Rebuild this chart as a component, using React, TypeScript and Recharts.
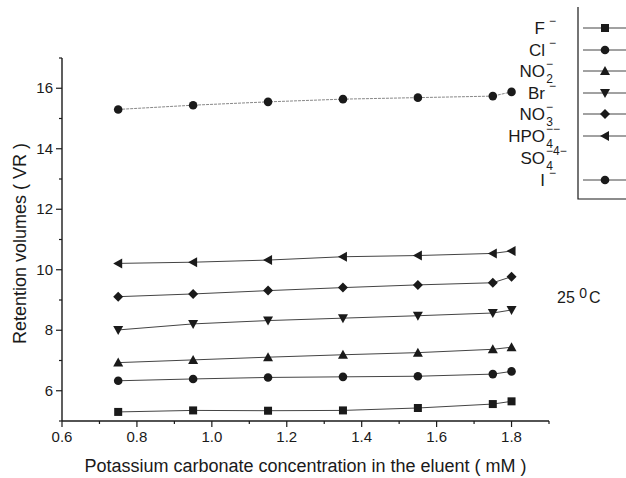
import React from 'react'
import { LineChart, Line, XAxis, YAxis } from 'recharts'

// K2CO3 concentration (mM) at which each run was made
const concentrations = [0.75, 0.95, 1.15, 1.35, 1.55, 1.75, 1.8]

// retention volumes per anion
const fluoride = [5.3, 5.35, 5.34, 5.35, 5.43, 5.56, 5.65]
const chloride = [6.33, 6.39, 6.44, 6.46, 6.48, 6.55, 6.64]
const nitrite = [6.93, 7.02, 7.11, 7.19, 7.26, 7.37, 7.44]
const bromide = [8.01, 8.21, 8.32, 8.4, 8.48, 8.57, 8.67]
const nitrate = [9.11, 9.2, 9.31, 9.41, 9.5, 9.57, 9.77]
const phosphate = [10.21, 10.25, 10.32, 10.43, 10.47, 10.54, 10.62]
const iodide = [15.3, 15.44, 15.55, 15.64, 15.69, 15.74, 15.88]

const xTicks = [0.6, 0.7, 0.8, 0.9, 1.0, 1.1, 1.2, 1.3, 1.4, 1.5, 1.6, 1.7, 1.8, 1.9]
const yTicks = [5, 6, 7, 8, 9, 10, 11, 12, 13, 14, 15, 16, 17]

const data = concentrations.map((c, i) => ({
  c,
  F: fluoride[i],
  Cl: chloride[i],
  NO2: nitrite[i],
  Br: bromide[i],
  NO3: nitrate[i],
  HPO4: phosphate[i],
  I: iodide[i]
}))

const FONT = '"Liberation Sans", Arial, Helvetica, sans-serif'
const INK = '#1a1a1a'

type Shape = 'square' | 'circle' | 'up' | 'down' | 'diamond' | 'left'

function Marker({ shape, cx, cy }: { shape: Shape; cx: number; cy: number }) {
  switch (shape) {
    case 'square':
      return <rect x={cx - 4} y={cy - 4} width={8} height={8} fill={INK} />
    case 'circle':
      return <circle cx={cx} cy={cy} r={4.3} fill={INK} />
    case 'up':
      return <polygon points={`${cx - 5},${cy + 4} ${cx + 5},${cy + 4} ${cx},${cy - 5}`} fill={INK} />
    case 'down':
      return <polygon points={`${cx - 5},${cy - 4} ${cx + 5},${cy - 4} ${cx},${cy + 5}`} fill={INK} />
    case 'diamond':
      return <polygon points={`${cx},${cy - 5} ${cx + 5},${cy} ${cx},${cy + 5} ${cx - 5},${cy}`} fill={INK} />
    case 'left':
      return <polygon points={`${cx + 4},${cy - 5} ${cx + 4},${cy + 5} ${cx - 5},${cy}`} fill={INK} />
  }
}

const dotFor = (shape: Shape) => (props: any) => (
  <Marker key={`${shape}-${props.index}`} shape={shape} cx={props.cx} cy={props.cy} />
)

const series: { key: string; shape: Shape; stroke: string; dash?: string }[] = [
  { key: 'F', shape: 'square', stroke: '#444' },
  { key: 'Cl', shape: 'circle', stroke: '#444' },
  { key: 'NO2', shape: 'up', stroke: '#444' },
  { key: 'Br', shape: 'down', stroke: '#444' },
  { key: 'NO3', shape: 'diamond', stroke: '#444' },
  { key: 'HPO4', shape: 'left', stroke: '#444' },
  { key: 'I', shape: 'circle', stroke: '#888', dash: '3 1' }
]

function XTick({ x, y, payload }: any) {
  const v = payload.value
  const major = Math.round(v * 10) % 2 === 0
  return (
    <g>
      <line x1={x} x2={x} y1={y} y2={y + (major ? 6 : 3)} stroke={INK} strokeWidth={1.2} />
      {major && (
        <text x={x} y={y + 21} textAnchor='middle' fontSize={15} fontFamily={FONT} fill={INK}>
          {v.toFixed(1)}
        </text>
      )}
    </g>
  )
}

function YTick({ x, y, payload }: any) {
  const v = payload.value
  const major = v % 2 === 0
  return (
    <g>
      <line x1={x} x2={x - (major ? 6 : 3)} y1={y} y2={y} stroke={INK} strokeWidth={1.2} />
      {major && (
        <text x={x - 9} y={y + 5} textAnchor='end' fontSize={15} fontFamily={FONT} fill={INK}>
          {v}
        </text>
      )}
    </g>
  )
}

function YTitle({ viewBox }: any) {
  const cx = 20
  const cy = viewBox.y + viewBox.height / 2 + 4
  return (
    <text
      x={cx}
      y={cy}
      transform={`rotate(-90 ${cx} ${cy})`}
      textAnchor='middle'
      dominantBaseline='central'
      fontSize={18}
      fontFamily={FONT}
      fill={INK}
    >
      Retention volumes ( VR )
    </text>
  )
}

function XTitle({ viewBox }: any) {
  return (
    <text
      x={viewBox.x + viewBox.width / 2}
      y={472}
      textAnchor='middle'
      fontSize={18}
      fontFamily={FONT}
      fill={INK}
    >
      Potassium carbonate concentration in the eluent ( mM )
    </text>
  )
}

// legend rows: ion name, stacked subscript / superscript, and its marker
const legendRows: { y: number; shape?: Shape; base: string; sub?: string; sup: string }[] = [
  { y: 28, shape: 'square', base: 'F', sup: '−' },
  { y: 50, shape: 'circle', base: 'Cl', sup: '−' },
  { y: 71, shape: 'up', base: 'NO', sub: '2', sup: '−' },
  { y: 93, shape: 'down', base: 'Br', sup: '−' },
  { y: 114, shape: 'diamond', base: 'NO', sub: '3', sup: '−' },
  { y: 136, shape: 'left', base: 'HPO', sub: '4', sup: '−−' },
  { y: 158, base: 'SO', sub: '4', sup: '−4−' },
  { y: 180, shape: 'circle', base: 'I', sup: '−' }
]

function LegendBox() {
  return (
    <svg width={626} height={210} style={{ position: 'absolute', left: 0, top: 0, pointerEvents: 'none' }}>
      <polyline points='578,7 578,199 626,199' fill='none' stroke={INK} strokeWidth={1.2} />
      {legendRows.map((r) => (
        <g key={r.y}>
          <text x={545} y={r.y + 6} textAnchor='end' fontSize={17} fontFamily={FONT} fill={INK}>
            {r.base}
          </text>
          {/* charge sits above the subscript, both in one run */}
          {r.sub ? (
            <text x={546} y={r.y + 12} fontSize={12} fontFamily={FONT} fill={INK}>
              {r.sub}
              <tspan dx={-7} dy={-15}>
                {r.sup}
              </tspan>
            </text>
          ) : (
            <text x={549} y={r.y - 3} fontSize={12} fontFamily={FONT} fill={INK}>
              {r.sup}
            </text>
          )}
          {r.shape && (
            <>
              <line x1={583} x2={626} y1={r.y} y2={r.y} stroke='#444' strokeWidth={1} />
              <Marker shape={r.shape} cx={605} cy={r.y} />
            </>
          )}
        </g>
      ))}
    </svg>
  )
}

export default function App() {
  return (
    <div style={{ position: 'absolute', left: 0, top: 0, width: 626, height: 478, background: '#fff' }}>
      <LineChart width={626} height={478} data={data} margin={{ top: 58, right: 77, bottom: 0, left: 0 }}>
        <XAxis
          dataKey='c'
          type='number'
          domain={[0.6, 1.9]}
          ticks={xTicks}
          interval={0}
          height={57}
          tickSize={0}
          tickMargin={0}
          tickLine={false}
          tick={<XTick />}
          axisLine={{ stroke: INK, strokeWidth: 1.4 }}
          label={<XTitle />}
        />
        <YAxis
          type='number'
          domain={[5, 17]}
          ticks={yTicks}
          interval={0}
          width={62}
          tickSize={0}
          tickMargin={0}
          tickLine={false}
          tick={<YTick />}
          axisLine={{ stroke: INK, strokeWidth: 1.4 }}
          label={<YTitle />}
        />
        {series.map((s) => (
          <Line
            key={s.key}
            dataKey={s.key}
            type='linear'
            stroke={s.stroke}
            strokeWidth={1}
            strokeDasharray={s.dash}
            dot={dotFor(s.shape)}
            activeDot={false}
            isAnimationActive={false}
          />
        ))}
      </LineChart>
      <LegendBox />
      <div
        style={{
          position: 'absolute',
          left: 557,
          top: 289,
          fontFamily: FONT,
          fontSize: 16,
          color: INK,
          whiteSpace: 'nowrap'
        }}
      >
        25 <sup style={{ fontSize: 14, verticalAlign: 'top', position: 'relative', top: -4 }}>0</sup>
        <span style={{ marginLeft: 2 }}>C</span>
      </div>
    </div>
  )
}
